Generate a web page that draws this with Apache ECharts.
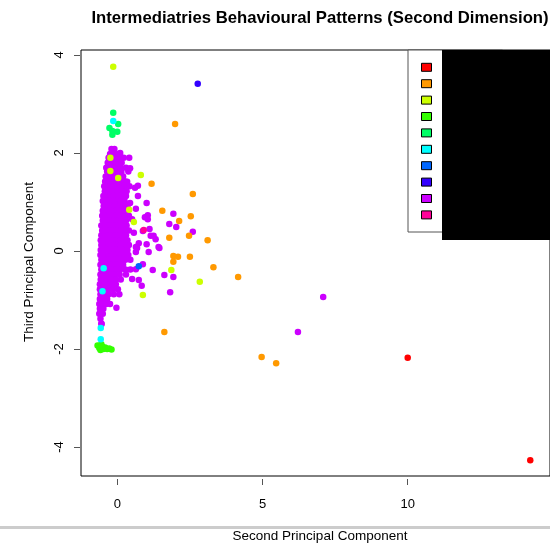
<!DOCTYPE html>
<html><head><meta charset="utf-8">
<script src="https://cdn.jsdelivr.net/npm/echarts@6/dist/echarts.min.js"></script>
<style>html,body{margin:0;padding:0;background:#fff}#c{width:550px;height:543px}</style>
</head><body><div id="c"></div>
<script>
const seriesNames = ['Group 1','Group 2','Group 3','Group 4','Group 5','Group 6','Group 7','Group 8','Group 9','Group 10'];
const seriesColors = ['#FF0000','#FF9900','#CCFF00','#33FF00','#00FF66','#00FFFF','#0066FF','#3300FF','#CC00FF','#FF0099'];
const xTicks = [0, 5, 10];
const yTicks = [-4, -2, 0, 2, 4];

const redPts = [[10.0,-2.18],[14.22,-4.27]];
const orangePts = [[1.99,2.59],[1.18,1.37],[2.60,1.16],[1.55,0.82],[2.53,0.71],[2.13,0.61],[1.79,0.27],[2.47,0.31],[3.11,0.22],[1.93,-0.10],[2.09,-0.12],[1.93,-0.22],[2.50,-0.12],[3.31,-0.33],[4.16,-0.53],[1.62,-1.65],[4.97,-2.16],[5.47,-2.29]];
const yellowPts = [[-0.14,3.76],[-0.24,1.90],[-0.24,1.63],[0.03,1.49],[0.81,1.55],[0.41,0.84],[0.57,0.59],[1.86,-0.39],[2.84,-0.63],[0.88,-0.90]];
const greenPts = [[-0.68,-1.93],[-0.62,-1.98],[-0.58,-2.02],[-0.52,-1.95],[-0.48,-2.0],[-0.42,-1.97],[-0.35,-2.0],[-0.28,-1.99],[-0.2,-2.01],[-0.55,-1.9]];
const springPts = [[-0.14,2.82],[0.03,2.59],[-0.27,2.51],[-0.17,2.45],[0.0,2.43],[-0.17,2.37]];
const cyanPts = [[-0.14,2.65],[-0.47,-0.35],[-0.51,-0.82],[-0.57,-1.57],[-0.57,-1.8]];
const bluePts = [[0.74,-0.31]];
const indigoPts = [[2.77,3.41]];
const pinkPts = [[0.91,0.43]];
const purplePts = [
[-0.2,2.08],[-0.1,2.08],[0.1,2.0],
[-0.25,1.98],[-0.12,1.98],[0.02,1.98],
[-0.3,1.9],[-0.18,1.9],[-0.05,1.9],[0.1,1.9],[0.22,1.9],[0.41,1.9],
[-0.33,1.8],[-0.22,1.8],[-0.1,1.8],[0.0,1.8],[0.15,1.8],
[-0.38,1.7],[-0.28,1.7],[-0.15,1.7],[-0.02,1.7],[0.12,1.7],[0.3,1.7],[0.44,1.69],
[-0.35,1.62],[-0.2,1.62],[-0.08,1.62],[0.05,1.62],[0.14,1.61],[0.38,1.62],
[-0.4,1.52],[-0.3,1.52],[-0.18,1.52],[-0.05,1.52],[0.08,1.52],[0.2,1.52],
[-0.42,1.42],[-0.32,1.42],[-0.2,1.42],[-0.1,1.42],[0.02,1.42],[0.15,1.42],[0.28,1.42],[0.2,1.41],[0.34,1.41],
[-0.45,1.32],[-0.35,1.32],[-0.25,1.32],[-0.12,1.32],[0.0,1.32],[0.12,1.32],[0.25,1.32],[0.42,1.32],[0.61,1.29],[0.71,1.33],
[-0.43,1.22],[-0.3,1.22],[-0.18,1.22],[-0.05,1.22],[0.08,1.22],[0.2,1.22],[0.32,1.22],
[-0.48,1.12],[-0.38,1.12],[-0.25,1.12],[-0.12,1.12],[0.0,1.12],[0.15,1.12],[0.3,1.12],[0.71,1.12],
[-0.5,1.02],[-0.4,1.02],[-0.28,1.02],[-0.15,1.02],[-0.02,1.02],[0.1,1.02],[0.25,1.02],[0.44,0.98],[1.01,0.98],
[-0.47,0.92],[-0.35,0.92],[-0.22,0.92],[-0.1,0.92],[0.05,0.92],[0.18,0.92],[0.35,0.92],[0.64,0.86],
[-0.5,0.82],[-0.4,0.82],[-0.3,0.82],[-0.18,0.82],[-0.05,0.82],[0.08,0.82],[0.2,0.82],[0.32,0.82],
[-0.52,0.72],[-0.42,0.72],[-0.3,0.72],[-0.18,0.72],[-0.05,0.72],[0.1,0.72],[0.25,0.72],[0.4,0.72],[0.95,0.69],[1.05,0.73],[1.05,0.65],[1.93,0.76],
[-0.5,0.62],[-0.38,0.62],[-0.25,0.62],[-0.12,0.62],[0.02,0.62],[0.15,0.62],[0.3,0.62],[0.51,0.65],
[-0.55,0.52],[-0.45,0.52],[-0.32,0.52],[-0.2,0.52],[-0.08,0.52],[0.05,0.52],[0.18,0.52],[0.32,0.52],[1.79,0.55],[2.03,0.49],
[-0.52,0.42],[-0.4,0.42],[-0.28,0.42],[-0.15,0.42],[-0.02,0.42],[0.12,0.42],[0.25,0.42],[0.4,0.42],[0.88,0.41],[1.11,0.45],[2.60,0.39],
[-0.55,0.32],[-0.45,0.32],[-0.32,0.32],[-0.2,0.32],[-0.08,0.32],[0.05,0.32],[0.18,0.32],[0.3,0.32],[0.57,0.37],[1.15,0.31],[1.25,0.31],
[-0.57,0.22],[-0.45,0.22],[-0.3,0.22],[-0.18,0.22],[-0.05,0.22],[0.1,0.22],[0.22,0.22],[0.35,0.22],[1.32,0.24],
[-0.55,0.12],[-0.42,0.12],[-0.3,0.12],[-0.15,0.12],[-0.02,0.12],[0.12,0.12],[0.25,0.12],[0.4,0.12],[0.74,0.16],[1.01,0.14],
[-0.57,0.02],[-0.45,0.02],[-0.32,0.02],[-0.2,0.02],[-0.08,0.02],[0.05,0.02],[0.2,0.02],[0.35,0.02],[0.64,0.08],[0.68,0.06],[1.42,0.08],[1.45,0.06],
[-0.58,-0.08],[-0.45,-0.08],[-0.3,-0.08],[-0.18,-0.08],[-0.05,-0.08],[0.1,-0.08],[0.25,-0.08],[0.38,-0.08],[0.64,-0.02],[1.08,-0.02],
[-0.55,-0.18],[-0.42,-0.18],[-0.3,-0.18],[-0.15,-0.18],[-0.02,-0.18],[0.12,-0.18],[0.28,-0.18],[0.45,-0.18],
[-0.58,-0.28],[-0.45,-0.28],[-0.32,-0.28],[-0.2,-0.28],[-0.08,-0.28],[0.05,-0.28],[0.2,-0.28],[0.88,-0.27],
[-0.55,-0.38],[-0.42,-0.38],[-0.3,-0.38],[-0.18,-0.38],[-0.05,-0.38],[0.1,-0.38],[0.28,-0.38],[0.45,-0.38],[0.64,-0.37],[1.22,-0.39],
[-0.58,-0.48],[-0.45,-0.48],[-0.32,-0.48],[-0.2,-0.48],[-0.08,-0.48],[0.08,-0.48],[0.3,-0.48],[1.62,-0.49],[1.93,-0.53],
[-0.57,-0.58],[-0.45,-0.58],[-0.32,-0.58],[-0.18,-0.58],[-0.05,-0.58],[0.12,-0.58],[0.51,-0.57],[0.74,-0.59],
[-0.6,-0.68],[-0.48,-0.68],[-0.35,-0.68],[-0.2,-0.68],[-0.05,-0.68],[0.84,-0.71],
[-0.6,-0.78],[-0.45,-0.78],[-0.3,-0.78],[-0.15,-0.78],[0.02,-0.78],[1.82,-0.84],
[-0.58,-0.88],[-0.45,-0.88],[-0.3,-0.88],[-0.12,-0.88],[0.07,-0.88],
[-0.6,-0.98],[-0.48,-0.98],[-0.35,-0.98],
[-0.62,-1.08],[-0.5,-1.08],[-0.38,-1.08],[-0.25,-1.08],[-0.03,-1.16],
[-0.6,-1.18],[-0.48,-1.18],
[-0.62,-1.28],[-0.5,-1.28],[-0.54,-1.27],
[-0.58,-1.38],
[-0.55,-1.48],[-0.54,-1.49],
[7.09,-0.94],[6.22,-1.65]
];

const allPts = [redPts, orangePts, yellowPts, greenPts, springPts, cyanPts, bluePts, indigoPts, purplePts, pinkPts];

const FONT = "'Liberation Sans', Arial, Helvetica, sans-serif";
const chart = echarts.init(document.getElementById('c'), null, {renderer: 'canvas'});

const series = seriesNames.map((n, i) => ({
  name: n,
  type: 'scatter',
  data: allPts[i],
  symbol: 'circle',
  symbolSize: 6.5,
  itemStyle: { color: seriesColors[i], opacity: 1 },
  z: i === 8 ? 2 : 3,
  emphasis: { disabled: true },
  silent: true
}));

chart.setOption({
  animation: false,
  backgroundColor: '#fff',
  grid: { left: 81, top: 50, width: 478, height: 426, show: true, borderColor: '#000', borderWidth: 1, backgroundColor: 'transparent' },
  xAxis: {
    type: 'value', min: -1.25, max: 14.9, offset: 3, position: 'bottom',
    axisLine: { show: false, onZero: false },
    splitLine: { show: false },
    axisTick: { show: true, inside: false, customValues: xTicks, length: 6, lineStyle: { color: '#555' } },
    axisLabel: { customValues: xTicks, margin: 19, color: '#000', fontSize: 13, fontFamily: FONT }
  },
  yAxis: {
    type: 'value', min: -4.59, max: 4.10, offset: 1, position: 'left',
    axisLine: { show: false, onZero: false },
    splitLine: { show: false },
    axisTick: { show: true, inside: false, customValues: yTicks, length: 6, lineStyle: { color: '#555' } },
    axisLabel: { customValues: yTicks, margin: 14, rotate: 90, color: '#000', fontSize: 13, fontFamily: FONT }
  },
  legend: {
    orient: 'vertical', left: 408, top: 50,
    padding: [11.3, 8, 11.1, 13],
    itemWidth: 10, itemHeight: 8, itemGap: 4.4,
    borderColor: '#555', borderWidth: 1, backgroundColor: '#fff',
    icon: 'rect',
    itemStyle: { borderColor: '#000', borderWidth: 1 },
    textStyle: { fontSize: 12, lineHeight: 12, color: '#000', fontFamily: FONT, padding: [0, 0, 0, 8] },
    data: seriesNames,
    selectedMode: false
  },
  graphic: [
    { type: 'rect', z: 100, shape: { x: 442, y: 50, width: 108, height: 190 }, style: { fill: '#000' } },
    { type: 'text', z: 100, style: { x: 320, y: 18, text: 'Intermediatries Behavioural Patterns (Second Dimension)', font: 'bold 16.7px ' + FONT, fill: '#000', textAlign: 'center', textVerticalAlign: 'middle' } },
    { type: 'text', z: 100, style: { x: 320, y: 536, text: 'Second Principal Component', font: '13.5px ' + FONT, fill: '#000', textAlign: 'center', textVerticalAlign: 'middle' } },
    { type: 'text', z: 100, x: 29, y: 262, rotation: Math.PI / 2, style: { x: 0, y: 0, text: 'Third Principal Component', font: '13.5px ' + FONT, fill: '#000', textAlign: 'center', textVerticalAlign: 'middle' } },
    { type: 'line', z: 100, shape: { x1: 0, y1: 527.5, x2: 550, y2: 527.5 }, style: { stroke: '#cccccc', lineWidth: 3 } }
  ],
  series: series
});
</script>
</body></html>
